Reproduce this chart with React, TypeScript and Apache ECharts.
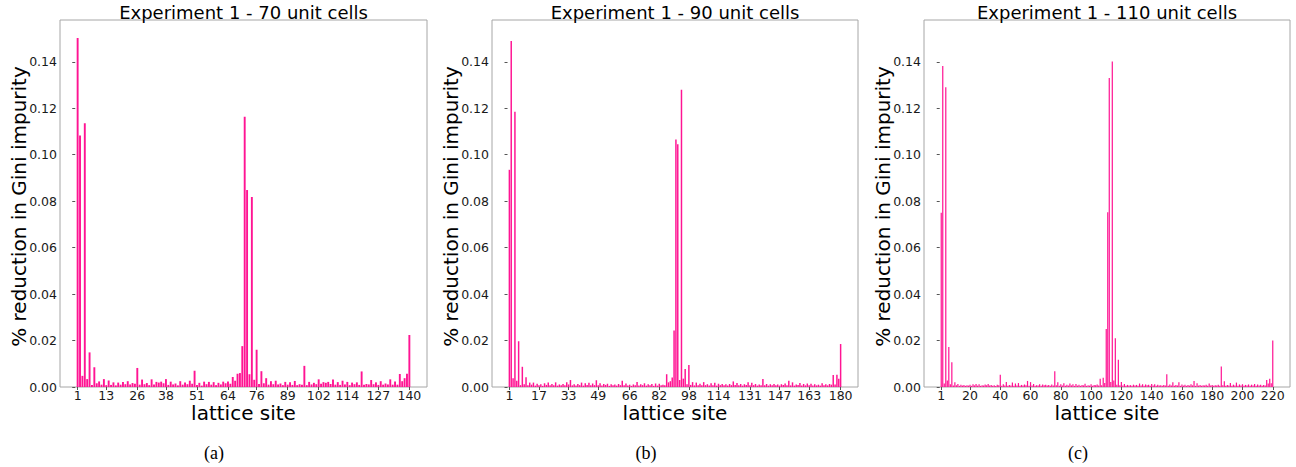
import React, { useEffect, useRef } from "react";
import * as echarts from "echarts";

// Reduction in Gini impurity per lattice site
const valuesA = [
  0.1503, 0.1083, 0.0048, 0.1135, 0.0034, 0.0149, 0.0009, 0.0085, 0.0016, 0.0024,
  0.0010, 0.0034, 0.0008, 0.0028, 0.0009, 0.0020, 0.0007, 0.0019, 0.0010, 0.0021,
  0.0012, 0.0025, 0.0011, 0.0017, 0.0014, 0.0082, 0.0010, 0.0032, 0.0012, 0.0017,
  0.0008, 0.0033, 0.0011, 0.0022, 0.0019, 0.0023, 0.0016, 0.0034, 0.0009, 0.0023,
  0.0011, 0.0015, 0.0007, 0.0025, 0.0010, 0.0019, 0.0012, 0.0027, 0.0014, 0.0070,
  0.0009, 0.0018, 0.0006, 0.0023, 0.0012, 0.0022, 0.0010, 0.0021, 0.0008, 0.0018,
  0.0011, 0.0023, 0.0016, 0.0024, 0.0014, 0.0043, 0.0027, 0.0057, 0.0060, 0.0176,
  0.1163, 0.0848, 0.0055, 0.0818, 0.0031, 0.0160, 0.0013, 0.0068, 0.0016, 0.0038,
  0.0010, 0.0025, 0.0012, 0.0027, 0.0011, 0.0015, 0.0008, 0.0022, 0.0010, 0.0020,
  0.0009, 0.0026, 0.0008, 0.0012, 0.0010, 0.0091, 0.0008, 0.0022, 0.0011, 0.0018,
  0.0012, 0.0033, 0.0014, 0.0021, 0.0018, 0.0022, 0.0013, 0.0032, 0.0010, 0.0021,
  0.0009, 0.0027, 0.0011, 0.0022, 0.0008, 0.0019, 0.0012, 0.0020, 0.0009, 0.0067,
  0.0010, 0.0013, 0.0011, 0.0030, 0.0012, 0.0020, 0.0009, 0.0025, 0.0010, 0.0015,
  0.0011, 0.0033, 0.0010, 0.0024, 0.0010, 0.0056, 0.0025, 0.0038, 0.0057, 0.0224,
];

const valuesB = [
  0.0935, 0.1490, 0.0038, 0.1185, 0.0027, 0.0197, 0.0008, 0.0087, 0.0012, 0.0042,
  0.0007, 0.0019, 0.0010, 0.0019, 0.0006, 0.0014, 0.0008, 0.0012, 0.0005, 0.0016,
  0.0009, 0.0019, 0.0007, 0.0013, 0.0008, 0.0020, 0.0006, 0.0011, 0.0007, 0.0013,
  0.0008, 0.0020, 0.0011, 0.0030, 0.0007, 0.0012, 0.0006, 0.0013, 0.0008, 0.0019,
  0.0006, 0.0016, 0.0009, 0.0018, 0.0007, 0.0015, 0.0008, 0.0029, 0.0007, 0.0016,
  0.0006, 0.0013, 0.0009, 0.0014, 0.0005, 0.0012, 0.0007, 0.0011, 0.0006, 0.0013,
  0.0008, 0.0027, 0.0007, 0.0015, 0.0006, 0.0010, 0.0005, 0.0011, 0.0007, 0.0021,
  0.0006, 0.0012, 0.0008, 0.0016, 0.0006, 0.0012, 0.0007, 0.0013, 0.0005, 0.0015,
  0.0006, 0.0014, 0.0008, 0.0010, 0.0007, 0.0055, 0.0020, 0.0025, 0.0041, 0.0243,
  0.1065, 0.1045, 0.0030, 0.1280, 0.0036, 0.0078, 0.0012, 0.0095, 0.0009, 0.0021,
  0.0007, 0.0019, 0.0008, 0.0014, 0.0007, 0.0021, 0.0008, 0.0012, 0.0006, 0.0016,
  0.0007, 0.0018, 0.0006, 0.0014, 0.0008, 0.0013, 0.0007, 0.0012, 0.0006, 0.0013,
  0.0008, 0.0024, 0.0009, 0.0017, 0.0007, 0.0013, 0.0006, 0.0012, 0.0009, 0.0020,
  0.0007, 0.0018, 0.0008, 0.0013, 0.0006, 0.0011, 0.0007, 0.0034, 0.0008, 0.0013,
  0.0006, 0.0012, 0.0008, 0.0013, 0.0007, 0.0011, 0.0006, 0.0012, 0.0009, 0.0015,
  0.0008, 0.0027, 0.0007, 0.0020, 0.0006, 0.0011, 0.0009, 0.0017, 0.0006, 0.0013,
  0.0007, 0.0015, 0.0008, 0.0014, 0.0006, 0.0012, 0.0007, 0.0010, 0.0006, 0.0016,
  0.0008, 0.0012, 0.0007, 0.0013, 0.0010, 0.0052, 0.0011, 0.0053, 0.0035, 0.0185,
];

const valuesC = [
  0.0750, 0.1382, 0.0015, 0.1290, 0.0028, 0.0172, 0.0012, 0.0107, 0.0006, 0.0020,
  0.0007, 0.0013, 0.0005, 0.0010, 0.0006, 0.0009, 0.0005, 0.0008, 0.0006, 0.0010,
  0.0005, 0.0012, 0.0007, 0.0013, 0.0006, 0.0012, 0.0005, 0.0008, 0.0006, 0.0011,
  0.0007, 0.0013, 0.0006, 0.0009, 0.0005, 0.0008, 0.0004, 0.0010, 0.0007, 0.0053,
  0.0005, 0.0012, 0.0006, 0.0021, 0.0005, 0.0009, 0.0006, 0.0019, 0.0005, 0.0015,
  0.0006, 0.0017, 0.0005, 0.0009, 0.0006, 0.0011, 0.0007, 0.0026, 0.0005, 0.0021,
  0.0006, 0.0013, 0.0005, 0.0008, 0.0006, 0.0012, 0.0005, 0.0011, 0.0007, 0.0010,
  0.0006, 0.0009, 0.0005, 0.0011, 0.0006, 0.0068, 0.0007, 0.0020, 0.0005, 0.0012,
  0.0006, 0.0016, 0.0005, 0.0010, 0.0006, 0.0015, 0.0007, 0.0012, 0.0005, 0.0013,
  0.0006, 0.0010, 0.0005, 0.0009, 0.0007, 0.0014, 0.0005, 0.0008, 0.0006, 0.0012,
  0.0005, 0.0009, 0.0007, 0.0011, 0.0006, 0.0035, 0.0008, 0.0040, 0.0017, 0.0250,
  0.0752, 0.1330, 0.0022, 0.1401, 0.0028, 0.0210, 0.0010, 0.0117, 0.0008, 0.0021,
  0.0006, 0.0013, 0.0005, 0.0009, 0.0006, 0.0008, 0.0005, 0.0010, 0.0006, 0.0009,
  0.0005, 0.0015, 0.0006, 0.0012, 0.0005, 0.0011, 0.0007, 0.0010, 0.0005, 0.0013,
  0.0006, 0.0012, 0.0005, 0.0010, 0.0006, 0.0008, 0.0005, 0.0009, 0.0006, 0.0055,
  0.0005, 0.0011, 0.0006, 0.0020, 0.0005, 0.0009, 0.0006, 0.0020, 0.0005, 0.0011,
  0.0006, 0.0010, 0.0005, 0.0009, 0.0006, 0.0012, 0.0007, 0.0026, 0.0005, 0.0016,
  0.0006, 0.0009, 0.0005, 0.0008, 0.0006, 0.0010, 0.0005, 0.0015, 0.0006, 0.0009,
  0.0005, 0.0008, 0.0006, 0.0010, 0.0005, 0.0088, 0.0007, 0.0025, 0.0005, 0.0009,
  0.0006, 0.0017, 0.0005, 0.0010, 0.0006, 0.0019, 0.0005, 0.0011, 0.0006, 0.0012,
  0.0005, 0.0009, 0.0006, 0.0011, 0.0005, 0.0010, 0.0006, 0.0013, 0.0005, 0.0011,
  0.0006, 0.0010, 0.0005, 0.0009, 0.0006, 0.0030, 0.0015, 0.0036, 0.0016, 0.0200,
];

const xTicksA = [1, 13, 26, 38, 51, 64, 76, 89, 102, 114, 127, 140];
const xTicksB = [1, 17, 33, 49, 66, 82, 98, 114, 131, 147, 163, 180];
const xTicksC = [1, 20, 40, 60, 80, 100, 120, 140, 160, 180, 200, 220];
const yTicks = [0, 0.02, 0.04, 0.06, 0.08, 0.1, 0.12, 0.14];

const titles = [
  "Experiment 1 - 70 unit cells",
  "Experiment 1 - 90 unit cells",
  "Experiment 1 - 110 unit cells",
];
const captions = ["(a)", "(b)", "(c)"];
const yName = "% reduction in Gini impurity";
const xName = "lattice site";

const FONT = "DejaVu Sans";
const BAR_COLOR = "#ff1493";
const FRAME = "#a6a6a6";

export default function App() {
  const ref = useRef<HTMLDivElement | null>(null);

  useEffect(() => {
    if (!ref.current) return;
    const chart = echarts.init(ref.current, null, { renderer: "svg" });

    const panels = [
      { values: valuesA, ticks: xTicksA, left: 60, width: 367 },
      { values: valuesB, ticks: xTicksB, left: 492, width: 366 },
      { values: valuesC, ticks: xTicksC, left: 924, width: 366 },
    ];
    const top = 20;
    const height = 367;
    const yMax = 0.158;

    const grids: any[] = [];
    const xAxes: any[] = [];
    const yAxes: any[] = [];
    const series: any[] = [];
    const graphics: any[] = [];

    panels.forEach((p, i) => {
      const n = p.values.length;
      const span = n - 0.2;
      const xMin = 0.6 - 0.05 * span;
      const xMax = n + 0.4 + 0.05 * span;
      const barW = (0.8 * p.width) / (xMax - xMin);

      grids.push({
        left: p.left,
        top,
        width: p.width,
        height,
        show: true,
        borderColor: FRAME,
        borderWidth: 1,
        backgroundColor: "transparent",
      });
      xAxes.push({
        type: "value",
        gridIndex: i,
        min: xMin,
        max: xMax,
        axisLine: { show: false },
        splitLine: { show: false },
        axisTick: {
          show: true,
          customValues: p.ticks,
          length: 3,
          lineStyle: { color: "#555" },
        },
        axisLabel: {
          customValues: p.ticks,
          fontSize: 12.5,
          fontFamily: FONT,
          color: "#1a1a1a",
          margin: 2,
        },
      });
      yAxes.push({
        type: "value",
        gridIndex: i,
        min: 0,
        max: yMax,
        axisLine: { show: false },
        splitLine: { show: false },
        axisTick: {
          show: true,
          customValues: yTicks,
          length: 3,
          lineStyle: { color: "#555" },
        },
        axisLabel: {
          customValues: yTicks,
          fontSize: 12.5,
          fontFamily: FONT,
          color: "#1a1a1a",
          margin: 3,
          formatter: (v: number) => v.toFixed(2),
        },
      });
      series.push({
        type: "bar",
        xAxisIndex: i,
        yAxisIndex: i,
        barWidth: barW,
        itemStyle: { color: BAR_COLOR },
        data: p.values.map((v, k) => [k + 1, v]),
      });

      const cx = p.left + p.width / 2;
      graphics.push({
        type: "text",
        x: cx,
        y: 12,
        style: {
          text: titles[i],
          font: `18px "${FONT}"`,
          fill: "#000",
          textAlign: "center",
          textVerticalAlign: "middle",
        },
      });
      graphics.push({
        type: "text",
        x: cx,
        y: 413,
        style: {
          text: xName,
          font: `20px "${FONT}"`,
          fill: "#000",
          textAlign: "center",
          textVerticalAlign: "middle",
        },
      });
      graphics.push({
        type: "text",
        x: p.left - 41,
        y: top + height / 2 + 3,
        rotation: Math.PI / 2,
        style: {
          text: yName,
          font: `20px "${FONT}"`,
          fill: "#000",
          textAlign: "center",
          textVerticalAlign: "middle",
        },
      });
      graphics.push({
        type: "text",
        x: [214, 646, 1078][i],
        y: 453,
        style: {
          text: captions[i],
          font: `18px "Liberation Serif"`,
          fill: "#000",
          textAlign: "center",
          textVerticalAlign: "middle",
        },
      });
    });

    chart.setOption({
      animation: false,
      backgroundColor: "#fff",
      grid: grids,
      xAxis: xAxes,
      yAxis: yAxes,
      series,
      graphic: graphics,
    });

    return () => chart.dispose();
  }, []);

  return (
    <div
      ref={ref}
      style={{ position: "absolute", left: 0, top: 0, width: 1296, height: 467 }}
    />
  );
}
